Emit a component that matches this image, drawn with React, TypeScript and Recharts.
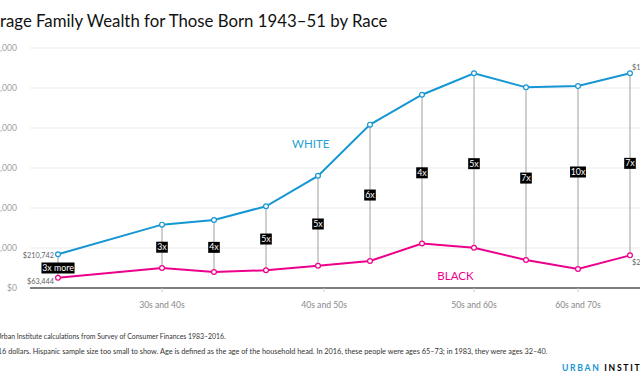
import React from 'react';
import { LineChart, Line, XAxis, YAxis, CartesianGrid, ReferenceLine, ReferenceDot } from 'recharts';

const years = [1983, 1989, 1992, 1995, 1998, 2001, 2004, 2007, 2010, 2013, 2016];
const whiteWealth = [210742, 396000, 425000, 511000, 701000, 1021000, 1208000, 1342000, 1254000, 1262000, 1342000];
const blackWealth = [63444, 125000, 100000, 111000, 139000, 169000, 278000, 252000, 175000, 119000, 204000];
const ratioLabels = ['3x more', '3x', '4x', '5x', '5x', '6x', '4x', '5x', '7x', '10x', '7x'];
const ratioLabelAt = [125000, 255000, 254000, 306000, 400000, 581000, 720000, 777000, 687000, 725000, 779000];
const yTicks = [0, 250000, 500000, 750000, 1000000, 1250000, 1500000];
const xTickYears = [1989, 1998.35, 2007, 2013];
const xTickLabels = ['30s and 40s', '40s and 50s', '50s and 60s', '60s and 70s'];
const seriesNames = { white: 'WHITE', black: 'BLACK' };
const whiteLabelAt = { year: 1997.58, value: 900000 };
const blackLabelAt = { year: 2005.93, value: 75000 };

const title = 'Average Family Wealth for Those Born 1943–51 by Race';
const sourceText = 'Source: Urban Institute calculations from Survey of Consumer Finances 1983–2016.';
const notesText = 'Notes: 2016 dollars. Hispanic sample size too small to show. Age is defined as the age of the household head. In 2016, these people were ages 65–73; in 1983, they were ages 32–40.';

const data = years.map((yr, i) => ({ year: yr, white: whiteWealth[i], black: blackWealth[i] }));

const BLUE = '#1696d2';
const PINK = '#ec008b';
const FONT = 'Lato, "Open Sans", sans-serif';

const fmt = (v: number) => '$' + Math.round(v).toLocaleString('en-US');

const makeEndLabel = (series: 'white' | 'black') => (props: any) => {
  const { x, y, index, value } = props;
  const last = years.length - 1;
  if (index === 0) {
    return (
      <text x={x - 4} y={y + (series === 'white' ? 1.5 : 4)} dy="0.35em" textAnchor="end"
        fontSize={7.3} fill="#666" fontFamily={FONT}>{fmt(value)}</text>
    );
  }
  if (index === last) {
    return (
      <text x={x + 2} y={y + (series === 'white' ? -6 : 7)} dy="0.35em" textAnchor="start"
        fontSize={7.3} fill="#666" fontFamily={FONT}>{fmt(value)}</text>
    );
  }
  return <g />;
};

const RatioBox = (props: any) => {
  const { cx, cy, text } = props;
  const w = text.length * 4.3 + 3;
  const h = 11;
  return (
    <g>
      <rect x={cx - w / 2} y={cy - h / 2} width={w} height={h} fill="#000" />
      <text x={cx} y={cy} dy="0.35em" textAnchor="middle" fontSize={8.8} fill="#fff" fontFamily={FONT}>{text}</text>
    </g>
  );
};

const SeriesName = (props: any) => {
  const { cx, cy, text, color } = props;
  return (
    <text x={cx} y={cy} dy="0.35em" textAnchor="middle" fontSize={11.5} fill={color} fontFamily={FONT}>{text}</text>
  );
};

const dotProps = (color: string) => ({ r: 2.4, fill: '#fff', stroke: color, strokeWidth: 1.2 });

export default function App() {
  return (
    <div style={{ position: 'fixed', left: 0, top: 0, width: 640, height: 372, overflow: 'hidden', background: '#fff', fontFamily: FONT }}>
      <div style={{ position: 'absolute', left: -60, top: 0 }}>
        <LineChart width={720} height={372} data={data} margin={{ top: 48, right: 10, bottom: 54, left: 10 }}>
          <CartesianGrid vertical={false} stroke="#ebebeb" strokeWidth={1} />
          <XAxis
            dataKey="year"
            type="number"
            domain={[1983, 2016]}
            ticks={xTickYears}
            tickFormatter={(v: number) => xTickLabels[xTickYears.indexOf(v)] ?? ''}
            padding={{ left: 28, right: 20 }}
            height={30}
            axisLine={{ stroke: '#555', strokeWidth: 1.3 }}
            tickLine={{ stroke: '#ccc' }}
            tickSize={4}
            tickMargin={10}
            tick={{ fontSize: 8.6, fill: '#888', fontFamily: FONT }}
            interval={0}
          />
          <YAxis
            type="number"
            domain={[0, 1500000]}
            ticks={yTicks}
            width={80}
            axisLine={false}
            tickLine={false}
            tickSize={0}
            tickMargin={13}
            tickFormatter={fmt}
            tick={{ fontSize: 8.6, fill: '#a0a0a0', fontFamily: FONT }}
            interval={0}
          />
          {years.map((yr, i) => (
            <ReferenceLine key={'c' + yr} segment={[{ x: yr, y: blackWealth[i] }, { x: yr, y: whiteWealth[i] }]}
              stroke="#a0a0a0" strokeWidth={1} ifOverflow="visible" />
          ))}
          <Line type="linear" dataKey="white" stroke={BLUE} strokeWidth={2} dot={dotProps(BLUE)} activeDot={false}
            isAnimationActive={false} label={makeEndLabel('white')} />
          <Line type="linear" dataKey="black" stroke={PINK} strokeWidth={2} dot={dotProps(PINK)} activeDot={false}
            isAnimationActive={false} label={makeEndLabel('black')} />
          {years.map((yr, i) => (
            <ReferenceDot key={'r' + yr} x={yr} y={ratioLabelAt[i]} r={0} ifOverflow="visible"
              shape={(p: any) => <RatioBox cx={p.cx} cy={p.cy} text={ratioLabels[i]} />} />
          ))}
          <ReferenceDot x={whiteLabelAt.year} y={whiteLabelAt.value} r={0} ifOverflow="visible"
            shape={(p: any) => <SeriesName cx={p.cx} cy={p.cy} text={seriesNames.white} color="#2a9fd0" />} />
          <ReferenceDot x={blackLabelAt.year} y={blackLabelAt.value} r={0} ifOverflow="visible"
            shape={(p: any) => <SeriesName cx={p.cx} cy={p.cy} text={seriesNames.black} color={PINK} />} />
        </LineChart>
      </div>
      <svg width={640} height={372} style={{ position: 'absolute', left: 0, top: 0, pointerEvents: 'none' }}>
        <text x={-28} y={27} fontSize={16.8} fill="#111" fontFamily={FONT}>{title}</text>
        <text x={-27.8} y={338.5} fontSize={6.9} fill="#333" fontFamily={FONT}>{sourceText}</text>
        <text x={-33.5} y={353.5} fontSize={7.3} fill="#333" fontFamily={FONT}>{notesText}</text>
        <text x={562} y={370.5} fontSize={8.6} fontWeight={700} letterSpacing={1.7} fontFamily={FONT}>
          <tspan fill={BLUE}>URBAN</tspan>
          <tspan fill="#000"> INSTITUTE</tspan>
        </text>
      </svg>
    </div>
  );
}
